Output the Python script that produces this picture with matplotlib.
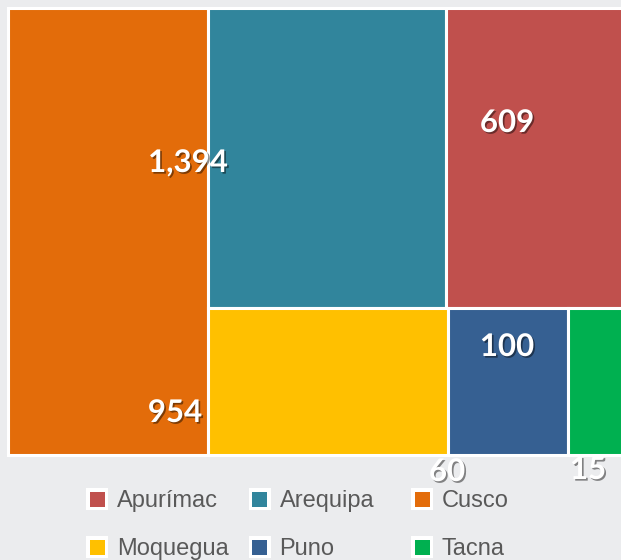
import matplotlib.pyplot as plt
import matplotlib.patheffects as pe
from matplotlib.patches import Rectangle

# --- data ---
regions = ["Cusco", "Arequipa", "Apurímac", "Moquegua", "Puno", "Tacna"]
sizes = [89, 71, 61, 35, 17.5, 12]  # relative box areas
colors = ["#E36C0A", "#31859C", "#C0504D", "#FFC000", "#366092", "#00B050"]
labels = ["1,394", "954", "609", "100", "60", "15"]
legend_order = ["Apurímac", "Arequipa", "Cusco", "Moquegua", "Puno", "Tacna"]

# label anchor points (pixels), as placed in the original
label_xy = [(188, 163), (175, 413), (507, 123), (507, 347), (447, 472), (588, 470)]


def layout(vals, x, y, w, h):
    # first item is a full-height column, the rest split in two rows (2 + 3)
    total = sum(vals)
    first_w = w * vals[0] / total
    rects = [(x, y, first_w, h)]
    rest = vals[1:]
    top, bottom = rest[:2], rest[2:]
    rx, rw = x + first_w, w - first_w
    top_h = h * sum(top) / sum(rest)
    for row, ry, rh in ((top, y, top_h), (bottom, y + top_h, h - top_h)):
        cx = rx
        for s in row:
            cw = rw * s / sum(row)
            rects.append((cx, ry, cw, rh))
            cx += cw
    return rects


fig = plt.figure(figsize=(6.21, 5.6), dpi=100, facecolor="#EBECEE")
ax = fig.add_axes([0, 0, 1, 1])
ax.set_xlim(0, 621)
ax.set_ylim(560, 0)
ax.axis("off")

# treemap box runs past the right edge of the picture (cropped)
for (x, y, w, h), c in zip(layout(sizes, 7.5, 7.5, 643, 447), colors):
    ax.add_patch(Rectangle((x, y), w, h, facecolor=c, edgecolor="white", linewidth=2.2))

shadow = [pe.withSimplePatchShadow(offset=(1.2, -1.2), shadow_rgbFace="black", alpha=0.45)]
for txt, (lx, ly) in zip(labels, label_xy):
    ax.text(lx, ly, txt, ha="center", va="center", fontsize=22.5, fontweight="bold",
            family=["Lato", "DejaVu Sans"], color="white", path_effects=shadow)

# --- legend, 3 columns ---
for i, name in enumerate(legend_order):
    col, row = i % 3, i // 3
    mx, my = 97 + col * 162.5, 499 + row * 48
    ax.add_patch(Rectangle((mx - 11, my - 11), 22, 22, facecolor="white", edgecolor="none"))
    ax.add_patch(Rectangle((mx - 7.5, my - 7.5), 15, 15,
                           facecolor=colors[regions.index(name)], edgecolor="none"))
    ax.text(mx + 20, my + 8, name, ha="left", va="baseline", fontsize=17,
            family=["Liberation Sans", "DejaVu Sans"], color="#595959")

fig.savefig("out.png", dpi=100, facecolor=fig.get_facecolor())
